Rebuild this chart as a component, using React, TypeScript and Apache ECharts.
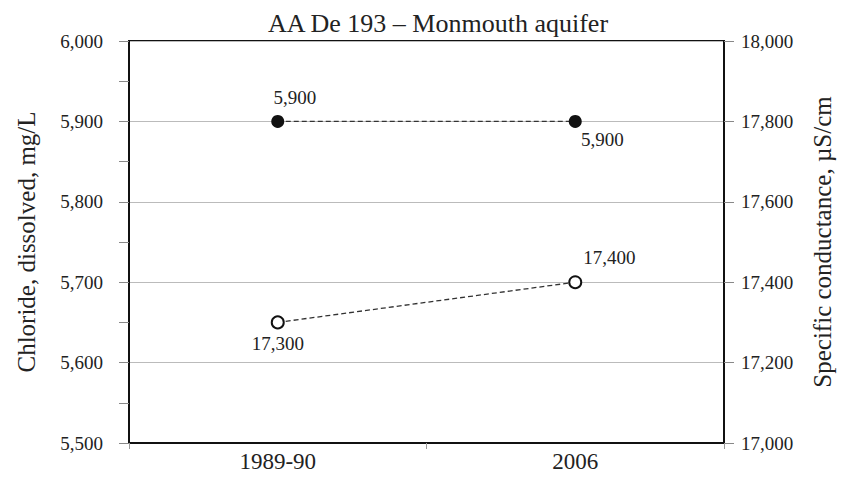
import React, { useEffect, useRef } from "react";
import * as echarts from "echarts";

const categories = ["1989-90", "2006"];
const chlorideValues = [5900, 5900];
const conductanceValues = [17300, 17400];
const chlorideTicks = [5500, 6000, 100];
const conductanceTicks = [17000, 18000, 200];

const FONT = "'Liberation Serif', 'Times New Roman', serif";
const fmt = (v: number) => v.toLocaleString("en-US");

const chlorideLabelOffsets = [[17, -24], [27, 18]];
const conductanceLabelOffsets = [[0, 21], [34, -25]];

export default function App() {
  const ref = useRef<HTMLDivElement>(null);
  useEffect(() => {
    if (!ref.current) return;
    const chart = echarts.init(ref.current, null, { renderer: "svg" });
    const labelStyle = {
      fontFamily: FONT,
      fontSize: 19,
      color: "#222",
      position: "inside",
      align: "center",
      verticalAlign: "middle",
    };
    chart.setOption({
      animation: false,
      backgroundColor: "#fff",
      title: {
        text: "AA De 193 – Monmouth aquifer",
        left: 433,
        top: 5,
        textAlign: "center",
        textStyle: { fontFamily: FONT, fontSize: 26, fontWeight: "normal", color: "#222" },
      },
      grid: {
        left: 129,
        right: 116,
        top: 41,
        bottom: 34,
        show: true,
        borderColor: "#111",
        borderWidth: 2,
        backgroundColor: "transparent",
      },
      xAxis: {
        type: "category",
        data: categories,
        boundaryGap: true,
        axisLine: { lineStyle: { color: "#111", width: 2 } },
        axisTick: { show: true, length: 6, lineStyle: { color: "#999" } },
        axisLabel: { fontFamily: FONT, fontSize: 23, color: "#222", margin: 7 },
      },
      yAxis: [
        {
          type: "value",
          min: chlorideTicks[0],
          max: chlorideTicks[1],
          interval: chlorideTicks[2],
          position: "left",
          name: "Chloride, dissolved, mg/L",
          nameLocation: "middle",
          nameRotate: 90,
          nameGap: 90,
          nameTextStyle: { fontFamily: FONT, fontSize: 25, color: "#222" },
          axisLine: { show: true, lineStyle: { color: "#111", width: 2 } },
          axisTick: { show: true, length: 10, lineStyle: { color: "#888" } },
          minorTick: { show: true, splitNumber: 2, length: 10, lineStyle: { color: "#888" } },
          axisLabel: { fontFamily: FONT, fontSize: 19, color: "#222", margin: 26, formatter: fmt },
          splitLine: { show: true, lineStyle: { color: "#bbbbbb", width: 1 } },
        },
        {
          type: "value",
          min: conductanceTicks[0],
          max: conductanceTicks[1],
          interval: conductanceTicks[2],
          position: "right",
          name: "Specific conductance, µS/cm",
          nameLocation: "middle",
          nameRotate: 90,
          nameGap: 86,
          nameTextStyle: { fontFamily: FONT, fontSize: 25, color: "#222" },
          axisLine: { show: true, lineStyle: { color: "#111", width: 2 } },
          axisTick: { show: true, length: 10, lineStyle: { color: "#888" } },
          axisLabel: { fontFamily: FONT, fontSize: 19, color: "#222", margin: 17, formatter: fmt },
          splitLine: { show: false },
        },
      ],
      series: [
        {
          name: "Chloride",
          type: "line",
          yAxisIndex: 0,
          data: chlorideValues.map((v, i) => ({
            value: v,
            label: { offset: chlorideLabelOffsets[i] },
          })),
          symbol: "circle",
          symbolSize: 13,
          itemStyle: { color: "#111" },
          lineStyle: { color: "#333", width: 1.3, type: [5, 3] },
          label: { show: true, formatter: (p: any) => fmt(p.value), ...labelStyle },
        },
        {
          name: "Specific conductance",
          type: "line",
          yAxisIndex: 1,
          data: conductanceValues.map((v, i) => ({
            value: v,
            label: { offset: conductanceLabelOffsets[i] },
          })),
          symbol: "circle",
          symbolSize: 12,
          itemStyle: { color: "#fff", borderColor: "#111", borderWidth: 2 },
          lineStyle: { color: "#333", width: 1.3, type: [5, 3] },
          label: { show: true, formatter: (p: any) => fmt(p.value), ...labelStyle },
        },
      ],
    });
    return () => chart.dispose();
  }, []);
  return <div ref={ref} style={{ width: 843, height: 477, position: "absolute", left: 0, top: 0 }} />;
}
